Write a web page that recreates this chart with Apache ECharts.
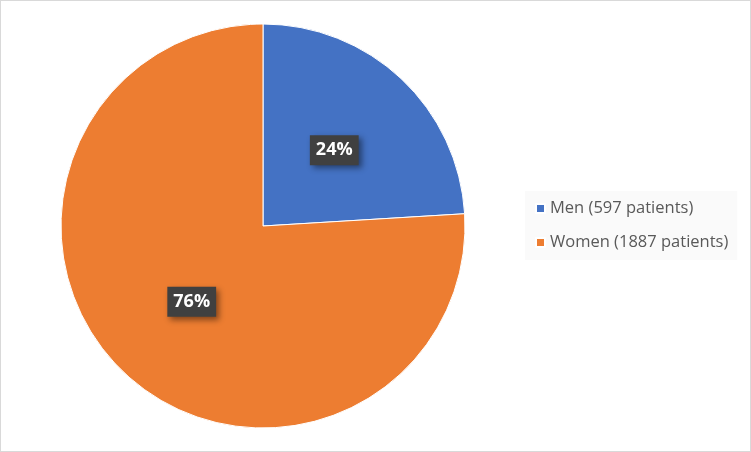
<!DOCTYPE html>
<html><head><meta charset="utf-8">
<script src="https://cdn.jsdelivr.net/npm/echarts@6/dist/echarts.min.js"></script>
<style>html,body{margin:0;padding:0;background:#fff}#c{width:751px;height:452px;box-sizing:border-box;border:1px solid #d9d9d9}</style>
</head><body><div id="c"></div>
<script>
const categories = ['Men (597 patients)', 'Women (1887 patients)'];
const values = [597, 1887];
const colors = ['#4472c4', '#ed7d31'];
const chart = echarts.init(document.getElementById('c'));
chart.setOption({
  animation: false,
  color: colors,
  legend: {
    orient: 'vertical', left: 524, top: 190,
    backgroundColor: '#fafafa', padding: [9, 9, 9, 10],
    itemWidth: 9, itemHeight: 9, itemGap: 17, icon: 'rect',
    textStyle: { fontFamily: 'Open Sans', fontSize: 16.5, color: '#595959' },
    data: categories
  },
  series: [{
    type: 'pie', center: [262, 225], radius: 202, startAngle: 90, clockwise: true,
    data: categories.map((n, i) => ({ name: n, value: values[i] })),
    itemStyle: { borderColor: '#fff', borderWidth: 1 },
    label: {
      position: 'inside', formatter: p => Math.round(p.percent) + '%',
      fontFamily: 'Open Sans', fontWeight: 'bold', fontSize: 18, color: '#fff',
      backgroundColor: '#404040', padding: [7, 6, 5, 6],
      shadowColor: 'rgba(0,0,0,0.45)', shadowBlur: 6, shadowOffsetX: 3, shadowOffsetY: 3
    },
    labelLine: { show: false }
  }]
});
</script></body></html>
